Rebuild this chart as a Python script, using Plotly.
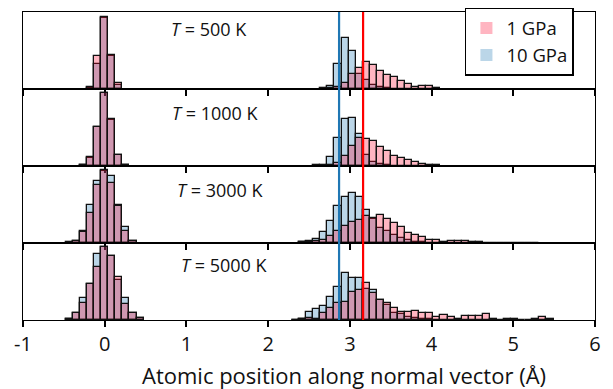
import plotly.graph_objects as go
from plotly.subplots import make_subplots

# ---------------- data ----------------
temperatures = ["500 K", "1000 K", "3000 K", "5000 K"]
pressures = ["1 GPa", "10 GPa"]

bin_width = 0.0865
# bin centres: first-layer peak (11 bins) followed by the adsorbed-layer region (37 bins)
bin_centers = [-0.4325, -0.346, -0.2595, -0.173, -0.0865, 0.0, 0.0865, 0.173, 0.2595, 0.346, 0.4325,
               2.3355, 2.422, 2.5085, 2.595, 2.6815, 2.768, 2.8545, 2.941, 3.0275, 3.114, 3.2005,
               3.287, 3.3735, 3.46, 3.5465, 3.633, 3.7195, 3.806, 3.8925, 3.979, 4.0655, 4.152,
               4.2385, 4.325, 4.4115, 4.498, 4.5845, 4.671, 4.7575, 4.844, 4.9305, 5.017, 5.1035,
               5.19, 5.2765, 5.363, 5.4495]

# counts (arbitrary units) -- 1 GPa
p1_500 = [0, 0, 0, 2, 33, 73, 34, 6, 0, 0, 0,
          0, 0, 0, 0, 0, 1, 2, 6, 15, 21, 27, 24, 18, 14, 12, 8, 5, 2, 3, 3, 1,
          0, 0, 0, 0, 0, 0, 0, 0, 0, 0, 0, 0, 0, 0, 0, 0]
p1_1000 = [0, 0, 1, 9, 40, 74, 48, 11, 1, 0, 0,
           0, 0, 0, 0, 0, 1, 3, 10, 20, 28, 27, 25, 19, 15, 10, 8, 6, 4, 2, 1, 1,
           0, 0, 0, 0, 0, 0, 0, 0, 0, 0, 0, 0, 0, 0, 0, 0]
p1_3000 = [1, 2, 11, 30, 59, 74, 61, 37, 12, 2, 0,
           0, 1, 1, 2, 3, 7, 12, 17, 21, 23, 27, 25, 28, 24, 20, 16, 10, 8, 6, 3, 3,
           1, 2, 2, 2, 1, 1, 0.5, 0.5, 0.5, 0.5, 0.5, 0.5, 0.5, 0.5, 0, 0]
p1_5000 = [1, 7, 17, 36, 54, 74, 65, 44, 16, 7, 2,
           0.5, 1, 2, 1, 7, 12, 17, 18, 28, 30, 37, 27, 20, 17, 12, 8, 8, 9, 7, 7, 3,
           5, 3, 1, 4, 4, 4, 6, 1, 0.5, 1, 1, 0.5, 0.5, 1, 3, 1]

# counts (arbitrary units) -- 10 GPa
p10_500 = [0, 0, 0, 1, 25, 72, 33, 4, 0, 0, 0,
           0, 0, 0, 0, 1, 3, 25, 52, 39, 15, 9, 4, 2, 1, 0, 0, 0, 0, 0, 0, 0,
           0, 0, 0, 0, 0, 0, 0, 0, 0, 0, 0, 0, 0, 0, 0, 0]
p10_1000 = [0, 0, 1, 8, 40, 74, 47, 11, 1, 0, 0,
            0, 0, 0, 1, 1, 9, 28, 48, 49, 32, 11, 4, 2, 1, 0, 0, 0, 0, 0, 0, 0,
            0, 0, 0, 0, 0, 0, 0, 0, 0, 0, 0, 0, 0, 0, 0, 0]
p10_3000 = [0, 2, 12, 38, 63, 73, 68, 39, 16, 2, 0,
            0, 1, 2, 4, 11, 22, 37, 47, 51, 47, 33, 24, 15, 12, 8, 5, 3, 1, 1, 0, 0,
            0, 0, 0, 0, 0, 0, 0, 0, 0, 0, 0, 0, 0, 0, 0, 0]
p10_5000 = [1, 7, 22, 36, 67, 74, 65, 41, 22, 7, 2,
            0.5, 1, 8, 11, 14, 23, 33, 48, 43, 43, 31, 30, 20, 15, 7, 6, 3, 2, 1, 1, 0,
            0, 0, 0, 0, 0, 0, 0, 0, 0, 0, 0, 0, 0, 0, 0, 0]

counts_1gpa = [p1_500, p1_1000, p1_3000, p1_5000]
counts_10gpa = [p10_500, p10_1000, p10_3000, p10_5000]

# mean adsorbed-layer positions (vertical guide lines)
mean_10gpa = 2.868
mean_1gpa = 3.162

tick_values = [-1, 0, 1, 2, 3, 4, 5, 6]
tick_labels = ["-1", "0", "1", "2", "3", "4", "5", "6"]

# ---------------- styling ----------------
FONT = "Open Sans"
BLUE_FILL = "rgba(31,119,180,0.3)"
PINK_FILL = "rgba(255,10,50,0.3)"
EDGE = dict(color="#111111", width=1.3)

fig = make_subplots(rows=4, cols=1, shared_xaxes=False, vertical_spacing=0)


def nz(xs, ys):
    pts = [(x, y) for x, y in zip(xs, ys) if y > 0]
    return [p[0] for p in pts], [p[1] for p in pts]


for i in range(4):
    xb, yb = nz(bin_centers, counts_10gpa[i])
    xp, yp = nz(bin_centers, counts_1gpa[i])
    fig.add_trace(go.Bar(x=xb, y=yb, width=bin_width, marker=dict(color=BLUE_FILL, line=EDGE),
                         showlegend=False, name=pressures[1]), row=i + 1, col=1)
    fig.add_trace(go.Bar(x=xp, y=yp, width=bin_width, marker=dict(color=PINK_FILL, line=EDGE),
                         showlegend=False, name=pressures[0]), row=i + 1, col=1)

# legend-only entries
fig.add_trace(go.Bar(x=[None], y=[None], name=pressures[0], marker=dict(color=PINK_FILL, line=dict(width=0))),
              row=1, col=1)
fig.add_trace(go.Bar(x=[None], y=[None], name=pressures[1], marker=dict(color=BLUE_FILL, line=dict(width=0))),
              row=1, col=1)

for i in range(4):
    fig.update_xaxes(range=[-1, 6], tickvals=tick_values, ticktext=tick_labels,
                     ticks="outside", ticklen=6, tickwidth=1.5, tickcolor="black",
                     showline=True, mirror=True, linewidth=1.4, linecolor="black",
                     showgrid=False, zeroline=False, showticklabels=(i == 3),
                     tickfont=dict(family=FONT, size=20, color="#111111"),
                     row=i + 1, col=1)
    fig.update_yaxes(range=[0, 78], showticklabels=False, ticks="",
                     showline=True, mirror=True, linewidth=1.4, linecolor="black",
                     showgrid=False, zeroline=False, row=i + 1, col=1)

# vertical mean-position lines spanning all panels
fig.add_shape(type="line", xref="x", yref="paper", x0=mean_10gpa, x1=mean_10gpa, y0=0, y1=1,
              line=dict(color="#1f77b4", width=2.2), layer="above")
fig.add_shape(type="line", xref="x", yref="paper", x0=mean_1gpa, x1=mean_1gpa, y0=0, y1=1,
              line=dict(color="#ff0000", width=2.2), layer="above")

# temperature labels
label_x = [0.79, 0.80, 0.86, 0.91]
label_y = [0.78, 0.69, 0.69, 0.72]
for i in range(4):
    yname = "y" if i == 0 else f"y{i + 1}"
    xname = "x" if i == 0 else f"x{i + 1}"
    fig.add_annotation(text=f"<i>T</i> = {temperatures[i]}", xref=xname, yref=f"{yname} domain",
                       x=label_x[i], y=label_y[i], xanchor="left", yanchor="middle", showarrow=False,
                       font=dict(family=FONT, size=18, color="#111111"))

fig.add_annotation(text="Atomic position along normal vector (Å)", xref="paper", yref="paper",
                   x=0.562, y=-0.178, xanchor="center", yanchor="middle", showarrow=False,
                   font=dict(family=FONT, size=22, color="#111111"))

fig.update_layout(
    width=613, height=389,
    margin=dict(l=23, r=18, t=8, b=69),
    barmode="overlay",
    bargap=0,
    paper_bgcolor="white", plot_bgcolor="white",
    showlegend=True,
    legend=dict(x=0.7726, y=1.013, xanchor="left", yanchor="top",
                bordercolor="black", borderwidth=1.5, bgcolor="white",
                font=dict(family=FONT, size=18.5, color="#111111"),
                traceorder="normal"),
)

fig.write_html("out.html", config={"displayModeBar": False},
               post_script="document.body.style.margin='0';document.body.style.overflow='hidden';")
